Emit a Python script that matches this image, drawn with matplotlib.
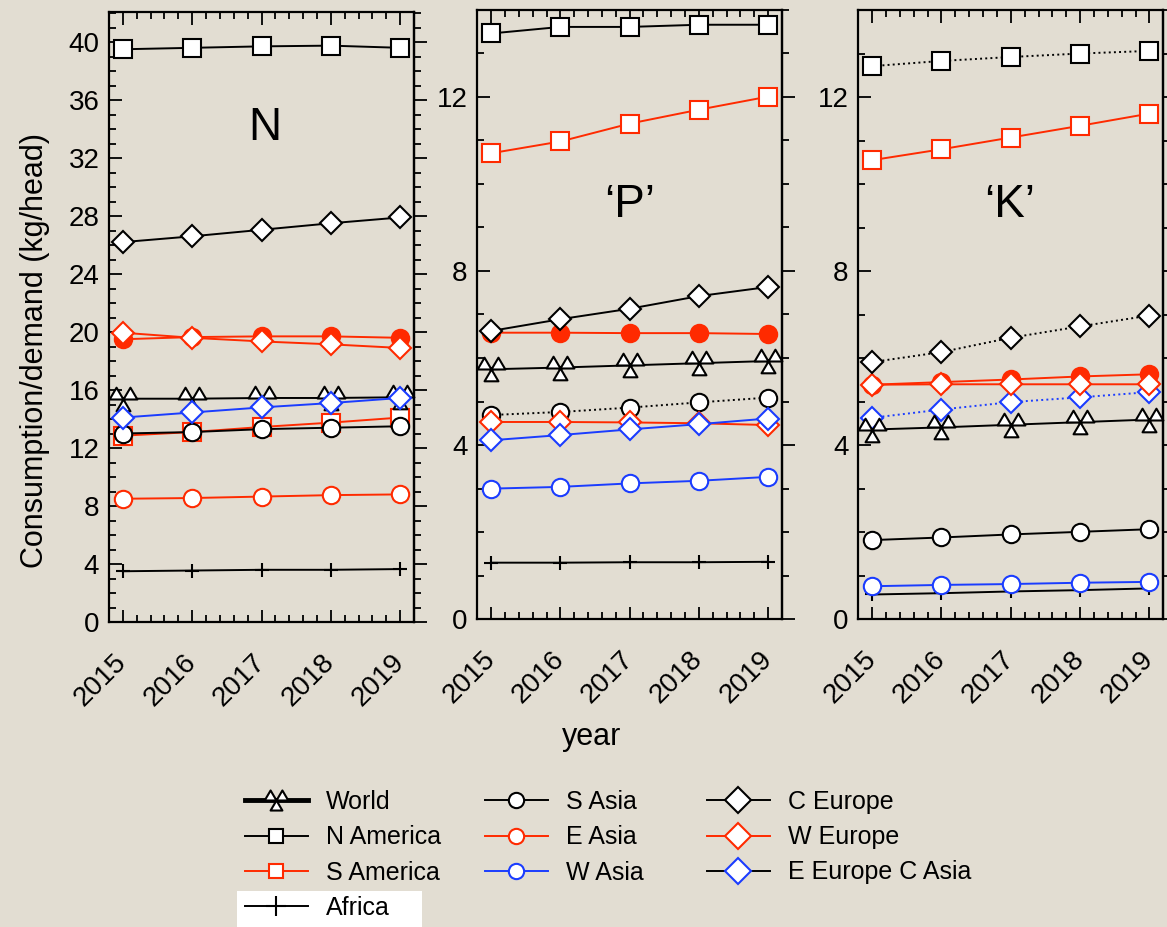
import matplotlib
matplotlib.use('Agg')
import matplotlib.pyplot as plt
from matplotlib.path import Path
from matplotlib.lines import Line2D
from matplotlib.patches import Rectangle
from matplotlib.ticker import MultipleLocator

plt.rcParams['font.family'] = ['Liberation Sans', 'DejaVu Sans']

# ------------------------------------------------------------------
# data (kg/head)
years = [2015, 2016, 2017, 2018, 2019]

# N
n_world = [15.4, 15.4, 15.45, 15.45, 15.5]
n_n_america = [39.5, 39.6, 39.7, 39.75, 39.6]
n_s_america = [12.85, 13.1, 13.45, 13.75, 14.1]
n_africa = [3.5, 3.55, 3.6, 3.6, 3.65]
n_s_asia = [13.0, 13.1, 13.3, 13.4, 13.5]
n_e_asia = [19.5, 19.65, 19.7, 19.7, 19.6]
n_e_asia_open = [8.5, 8.55, 8.65, 8.75, 8.8]
n_c_europe = [26.2, 26.6, 27.05, 27.5, 27.9]
n_w_europe = [19.95, 19.6, 19.35, 19.15, 18.9]
n_ee_ca = [14.1, 14.45, 14.8, 15.1, 15.45]

# 'P'
p_world = [5.74, 5.78, 5.83, 5.88, 5.93]
p_n_america = [13.45, 13.6, 13.6, 13.65, 13.65]
p_s_america = [10.7, 10.97, 11.38, 11.7, 12.0]
p_africa = [1.3, 1.3, 1.31, 1.31, 1.32]
p_s_asia = [4.69, 4.76, 4.86, 4.98, 5.09]
p_e_asia = [6.58, 6.58, 6.57, 6.57, 6.55]
p_w_asia = [3.0, 3.04, 3.12, 3.18, 3.27]
p_c_europe = [6.62, 6.89, 7.13, 7.42, 7.63]
p_w_europe = [4.53, 4.53, 4.52, 4.5, 4.46]
p_ee_ca = [4.11, 4.23, 4.36, 4.48, 4.61]

# 'K'
k_world = [4.36, 4.41, 4.47, 4.53, 4.59]
k_n_america = [12.71, 12.83, 12.92, 13.0, 13.06]
k_s_america = [10.55, 10.8, 11.07, 11.34, 11.62]
k_africa = [0.57, 0.6, 0.64, 0.67, 0.71]
k_s_asia = [1.82, 1.88, 1.95, 2.01, 2.07]
k_e_asia = [5.39, 5.45, 5.51, 5.58, 5.63]
k_w_asia = [0.76, 0.79, 0.81, 0.84, 0.86]
k_c_europe = [5.91, 6.14, 6.47, 6.73, 6.98]
k_w_europe = [5.39, 5.4, 5.4, 5.4, 5.4]
k_ee_ca = [4.63, 4.82, 4.99, 5.1, 5.22]

# ------------------------------------------------------------------
BG = '#E2DDD2'
RED = '#FF2A00'
BLUE = '#1A3CFF'

# triple triangle marker (two on top, one below)
tri_verts = [(-1, 0), (0, 0), (-0.5, 0.85), (-1, 0),
             (0, 0), (1, 0), (0.5, 0.85), (0, 0),
             (-0.5, -0.85), (0.5, -0.85), (0, 0), (-0.5, -0.85)]
tri_codes = [Path.MOVETO, Path.LINETO, Path.LINETO, Path.CLOSEPOLY] * 3
world_marker = Path(tri_verts, tri_codes)

# marker, size, edge, face, line colour
styles = {
    'World': (world_marker, 20, 'black', 'white', 'black'),
    'N America': ('s', 13, 'black', 'white', 'black'),
    'S America': ('s', 13, RED, 'white', RED),
    'Africa': ('+', 10, 'black', 'none', 'black'),
    'S Asia': ('o', 12.5, 'black', 'white', 'black'),
    'E Asia': ('o', 12.5, RED, 'white', RED),
    'E Asia filled': ('o', 12.5, RED, RED, RED),
    'W Asia': ('o', 12.5, BLUE, 'white', BLUE),
    'C Europe': ('D', 11.5, 'black', 'white', 'black'),
    'W Europe': ('D', 11.5, RED, 'white', RED),
    'E Europe C Asia': ('D', 11.5, BLUE, 'white', BLUE),
}


def draw(ax, y, key, ls='-'):
    m, ms, ec, fc, lc = styles[key]
    ax.plot(years, y, color=lc, ls=ls, lw=1.4, marker=m, ms=ms,
            mec=ec, mfc=fc, mew=1.5, clip_on=False)


fig = plt.figure(figsize=(11.67, 9.27), dpi=100, facecolor=BG)
W, H = 1167.0, 927.0

panels = [
    ('N', (109, 12, 414, 622), 42.07, 4, 1),
    ('\u2018P\u2019', (477.3, 9.5, 782, 619.3), 14.0, 4, 1),
    ('\u2018K\u2019', (858.3, 10, 1163.3, 619.3), 14.0, 4, 1),
]
axes = []
for name, (x0, y0, x1, y1), ytop, major, minor in panels:
    ax = fig.add_axes([x0 / W, 1 - y1 / H, (x1 - x0) / W, (y1 - y0) / H])
    ax.set_facecolor(BG)
    ax.set_xlim(2014.8, 2019.2)
    ax.set_ylim(0, ytop)
    ax.xaxis.set_major_locator(MultipleLocator(1))
    ax.xaxis.set_minor_locator(MultipleLocator(0.2))
    ax.yaxis.set_major_locator(MultipleLocator(major))
    ax.yaxis.set_minor_locator(MultipleLocator(minor))
    ax.tick_params(axis='both', which='both', direction='in', top=True,
                   right=False, width=1.3, labelsize=20)
    ax.tick_params(axis='both', which='major', length=9)
    ax.tick_params(axis='both', which='minor', length=5)
    ax.tick_params(axis='y', pad=7)
    ax.tick_params(axis='x', pad=26)
    for lab in ax.get_xticklabels():
        lab.set_rotation(45)
        lab.set_ha('right')
        lab.set_va('center')
        lab.set_rotation_mode('anchor')
    sec = ax.secondary_yaxis('right')
    sec.yaxis.set_major_locator(MultipleLocator(major))
    sec.yaxis.set_minor_locator(MultipleLocator(minor))
    sec.tick_params(which='both', direction='out', width=1.3, labelright=False)
    sec.tick_params(which='major', length=9)
    sec.tick_params(which='minor', length=5)
    sec.spines['right'].set_linewidth(1.6)
    for s in ax.spines.values():
        s.set_linewidth(1.6)
    axes.append(ax)

ax_n, ax_p, ax_k = axes

# N
draw(ax_n, n_africa, 'Africa')
draw(ax_n, n_e_asia_open, 'E Asia')
draw(ax_n, n_s_america, 'S America')
draw(ax_n, n_s_asia, 'S Asia')
draw(ax_n, n_world, 'World')
draw(ax_n, n_e_asia, 'E Asia filled')
draw(ax_n, n_w_europe, 'W Europe')
draw(ax_n, n_c_europe, 'C Europe')
draw(ax_n, n_ee_ca, 'E Europe C Asia')
draw(ax_n, n_n_america, 'N America')
ax_n.text(0.511, 0.81, 'N', transform=ax_n.transAxes, fontsize=33,
          ha='center', va='center')

# 'P'
draw(ax_p, p_africa, 'Africa')
draw(ax_p, p_w_asia, 'W Asia')
draw(ax_p, p_s_america, 'S America')
draw(ax_p, p_s_asia, 'S Asia', ls=':')
draw(ax_p, p_world, 'World')
draw(ax_p, p_e_asia, 'E Asia filled')
draw(ax_p, p_w_europe, 'W Europe')
draw(ax_p, p_c_europe, 'C Europe')
draw(ax_p, p_ee_ca, 'E Europe C Asia')
draw(ax_p, p_n_america, 'N America')
ax_p.text(0.5, 0.68, '\u2018P\u2019', transform=ax_p.transAxes, fontsize=33,
          ha='center', va='center')

# 'K'
draw(ax_k, k_africa, 'Africa')
draw(ax_k, k_w_asia, 'W Asia')
draw(ax_k, k_s_america, 'S America')
draw(ax_k, k_s_asia, 'S Asia')
draw(ax_k, k_ee_ca, 'E Europe C Asia', ls=':')
draw(ax_k, k_world, 'World')
draw(ax_k, k_e_asia, 'E Asia filled')
draw(ax_k, k_w_europe, 'W Europe')
draw(ax_k, k_c_europe, 'C Europe', ls=':')
draw(ax_k, k_n_america, 'N America', ls=':')
ax_k.text(0.497, 0.68, '\u2018K\u2019', transform=ax_k.transAxes, fontsize=33,
          ha='center', va='center')

# axis labels
fig.text(35 / W, 1 - 350 / H, 'Consumption/demand (kg/head)', rotation=90,
         fontsize=22, ha='center', va='center')
fig.text(592 / W, 1 - 737 / H, 'year', fontsize=22, ha='center', va='center')


# legend, three columns
def handle(key, lw=1.4, ms=None, lc=None):
    m, ms0, ec, fc, lc0 = styles[key]
    return Line2D([], [], color=lc or lc0, lw=lw, marker=m, ms=ms or ms0,
                  mec=ec, mfc=fc, mew=1.5)


col1 = [handle('World', lw=3.5, ms=17), handle('N America', ms=10),
        handle('S America', ms=10), handle('Africa', ms=14)]
lab1 = ['World', 'N America', 'S America', 'Africa']
col2 = [handle('S Asia', ms=11), handle('E Asia', ms=11), handle('W Asia', ms=11)]
lab2 = ['S Asia', 'E Asia', 'W Asia']
col3 = [handle('C Europe', ms=13.5), handle('W Europe', ms=13.5),
        handle('E Europe C Asia', ms=13.5, lc='black')]
lab3 = ['C Europe', 'W Europe', 'E Europe C Asia']

for hs, ls_, x in [(col1, lab1, 245), (col2, lab2, 485), (col3, lab3, 707)]:
    fig.legend(hs, ls_, loc='upper left', bbox_to_anchor=(x / W, 1 - 790 / H),
               frameon=False, fontsize=18, handlelength=2.5, handletextpad=0.75,
               labelspacing=0.45, borderpad=0, borderaxespad=0)

fig.add_artist(Rectangle((237 / W, 0), (422 - 237) / W, (927 - 891) / H,
                         transform=fig.transFigure, facecolor='white',
                         edgecolor='none', zorder=0))

fig.savefig('out.png', dpi=100, facecolor=BG)
